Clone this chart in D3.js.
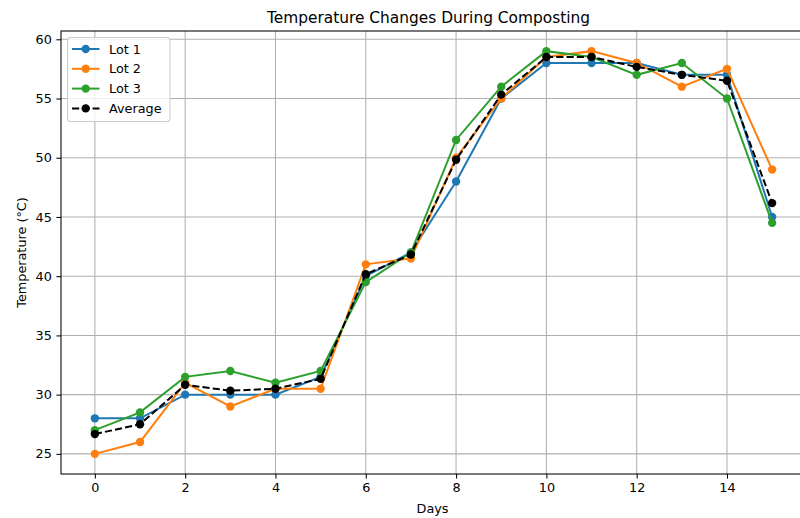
<!DOCTYPE html>
<html>
<head>
<meta charset="utf-8">
<script src="https://cdn.jsdelivr.net/npm/d3@7"></script>
<style>
  body { margin: 0; background: #fff; }
  svg { display: block; font-family: "DejaVu Sans", sans-serif; }
</style>
</head>
<body>
<svg id="chart" width="800" height="518"></svg>
<script>
// data
const days = [0, 1, 2, 3, 4, 5, 6, 7, 8, 9, 10, 11, 12, 13, 14, 15];
const lot1 = [28, 28, 30, 30, 30, 31.5, 40, 42, 48, 55, 58, 58, 58, 57, 57, 45];
const lot2 = [25, 26, 31, 29, 30.5, 30.5, 41, 41.5, 50, 55, 58.5, 59, 58, 56, 57.5, 49];
const lot3 = [27, 28.5, 31.5, 32, 31, 32, 39.5, 42, 51.5, 56, 59, 58.5, 57, 58, 55, 44.5];
const average = [26.67, 27.5, 30.83, 30.33, 30.5, 31.33, 40.17, 41.83, 49.83, 55.33, 58.5, 58.5, 57.67, 57, 56.5, 46.17];
const xTicks = [0, 2, 4, 6, 8, 10, 12, 14];
const yTicks = [25, 30, 35, 40, 45, 50, 55, 60];

const series = [
  { name: "Lot 1", values: lot1, color: "#1f77b4", dash: null },
  { name: "Lot 2", values: lot2, color: "#ff7f0e", dash: null },
  { name: "Lot 3", values: lot3, color: "#2ca02c", dash: null },
  { name: "Average", values: average, color: "#000000", dash: "7.2,3.1" }
];

const plotLeft = 61, plotRight = 806, plotTop = 31, plotBottom = 474;
const fontSize = 12.8;
const svg = d3.select("#chart");

const x = d3.scaleLinear().domain([-0.75, 15.75]).range([plotLeft, plotRight]);
const y = d3.scaleLinear().domain([23.3, 60.7]).range([plotBottom, plotTop]);

// grid
const grid = svg.append("g").attr("stroke", "#b0b0b0").attr("stroke-width", 1.05);
grid.selectAll(".gx").data(xTicks).enter().append("line")
  .attr("x1", d => x(d)).attr("x2", d => x(d)).attr("y1", plotTop).attr("y2", plotBottom);
grid.selectAll(".gy").data(yTicks).enter().append("line")
  .attr("x1", plotLeft).attr("x2", plotRight).attr("y1", d => y(d)).attr("y2", d => y(d));

// axes
const xAxis = svg.append("g").attr("transform", `translate(0,${plotBottom})`)
  .call(d3.axisBottom(x).tickValues(xTicks).tickSize(4.6).tickPadding(4.6).tickSizeOuter(0));
const yAxis = svg.append("g").attr("transform", `translate(${plotLeft},0)`)
  .call(d3.axisLeft(y).tickValues(yTicks).tickSize(4.6).tickPadding(4.6).tickSizeOuter(0));
[xAxis, yAxis].forEach(a => {
  a.select(".domain").remove();
  a.selectAll("line").attr("stroke", "#000").attr("stroke-width", 1.05);
  a.selectAll("text").attr("font-size", fontSize).attr("fill", "#000")
    .attr("font-family", "DejaVu Sans, sans-serif");
});

// frame
svg.append("rect").attr("x", plotLeft).attr("y", plotTop)
  .attr("width", plotRight - plotLeft).attr("height", plotBottom - plotTop)
  .attr("fill", "none").attr("stroke", "#000").attr("stroke-width", 1.05);

// lines and markers
const line = d3.line().x((d, i) => x(days[i])).y(d => y(d));
series.forEach(s => {
  const g = svg.append("g");
  g.append("path").datum(s.values).attr("d", line)
    .attr("fill", "none").attr("stroke", s.color).attr("stroke-width", 2)
    .attr("stroke-dasharray", s.dash);
  g.selectAll("circle").data(s.values).enter().append("circle")
    .attr("cx", (d, i) => x(days[i])).attr("cy", d => y(d)).attr("r", 4.2)
    .attr("fill", s.color);
});

// title and labels
svg.append("text").attr("x", 428.5).attr("y", 22.5)
  .attr("text-anchor", "middle").attr("font-size", 15.4).text("Temperature Changes During Composting");
svg.append("text").attr("x", 432.5).attr("y", 512.5)
  .attr("text-anchor", "middle").attr("font-size", fontSize).text("Days");
svg.append("text").attr("transform", "translate(25.5,252.5) rotate(-90)")
  .attr("text-anchor", "middle").attr("font-size", fontSize).text("Temperature (°C)");

// legend
const legend = svg.append("g");
legend.append("rect").attr("x", 67.5).attr("y", 37.5).attr("width", 102.5).attr("height", 84)
  .attr("rx", 3).attr("fill", "#fff").attr("fill-opacity", 0.8)
  .attr("stroke", "#cccccc").attr("stroke-width", 1.05);
series.forEach((s, i) => {
  const ry = 49 + i * 19.8;
  legend.append("line").attr("x1", 72).attr("x2", 99.5).attr("y1", ry).attr("y2", ry)
    .attr("stroke", s.color).attr("stroke-width", 2).attr("stroke-dasharray", s.dash);
  legend.append("circle").attr("cx", 85.7).attr("cy", ry).attr("r", 4.2).attr("fill", s.color);
  legend.append("text").attr("x", 109).attr("y", ry + 4.6).attr("font-size", fontSize).text(s.name);
});
</script>
</body>
</html>
